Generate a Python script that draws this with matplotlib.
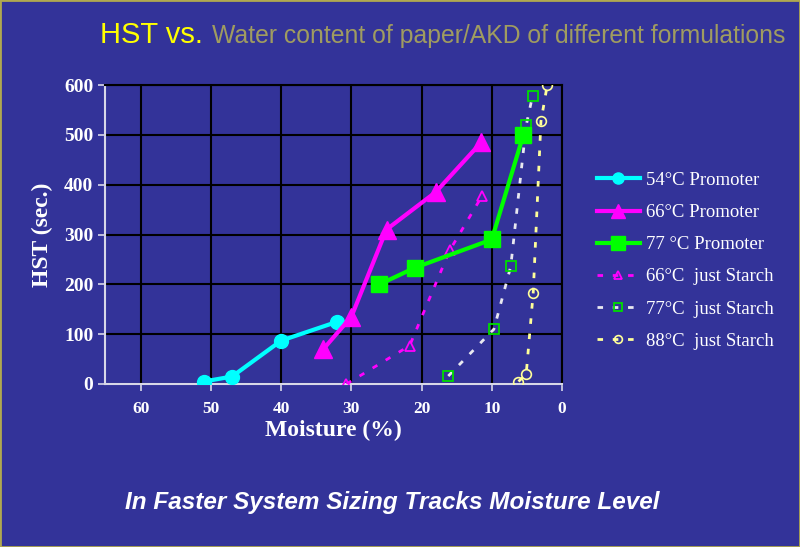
import matplotlib
matplotlib.use('Agg')
import matplotlib.pyplot as plt
from matplotlib.patches import Rectangle

# data  (x = moisture %, y = HST sec.)
x54p = [51, 47, 40, 32];            y54p = [5, 15, 87, 125]
x66p = [34, 30, 25, 18, 11.5];      y66p = [70, 135, 310, 385, 485]
x77p = [26, 21, 10, 5.5];           y77p = [200, 233, 290, 500]
x66s = [30.7, 21.7, 16, 11.4];      y66s = [0, 77, 268, 377]
x77s = [16.2, 9.7, 7.3, 5.1, 4.2];  y77s = [16, 110, 236, 519, 578]
x88s = [6.2, 5.1, 4.1, 3.0, 2.1];   y88s = [5, 20, 183, 527, 600]
labels = ['54°C Promoter', '66°C Promoter', '77 °C Promoter',
          '66°C  just Starch', '77°C  just Starch', '88°C  just Starch']
xticks = [60, 50, 40, 30, 20, 10, 0]
yticks = [0, 100, 200, 300, 400, 500, 600]

BG = '#333399'
serif = ['Liberation Serif', 'DejaVu Serif']
sans = ['Liberation Sans', 'DejaVu Sans']

fig = plt.figure(figsize=(8, 5.47), dpi=100, facecolor=BG)
ax = fig.add_axes([105/800, 1-384/547, (562-105)/800, (384-85)/547], facecolor=BG)

dot = (0, (2, 3.5))
ax.plot(x54p, y54p, color='#00ffff', lw=3, marker='o', ms=10, label=labels[0], zorder=5)
ax.plot(x66p, y66p, color='#ff00ff', lw=3, marker='^', ms=13, label=labels[1], zorder=5)
ax.plot(x77p, y77p, color='#00ff00', lw=3, marker='s', ms=12, label=labels[2], zorder=5)
ax.plot(x66s, y66s, color='#ff00ff', lw=2, ls=dot, marker='^', ms=7, mfc='none',
        mec='#ff00ff', mew=1.3, label=labels[3], zorder=4)
ax.plot(x77s, y77s, color='#e8e8f0', lw=2, ls=dot, marker='s', ms=7, mfc='none',
        mec='#00dd00', mew=1.3, label=labels[4], zorder=4)
ax.plot(x88s, y88s, color='#ffff99', lw=2, ls=dot, marker='o', ms=7, mfc='none',
        mec='#ffff99', mew=1.2, label=labels[5], zorder=4)

ax.set_xlim(65.1, 0)
ax.set_ylim(0, 600)
ax.set_xticks(xticks)
ax.set_yticks(yticks)
ax.grid(True, color='black', lw=1.5)
ax.set_axisbelow(True)
for s in ['top', 'right']:
    ax.spines[s].set_color('black'); ax.spines[s].set_linewidth(1.5)
for s in ['left', 'bottom']:
    ax.spines[s].set_color('#d8d8e8'); ax.spines[s].set_linewidth(1.5)
ax.tick_params(axis='both', colors='#d8d8e8', length=5, width=1.2, direction='out')
for t in ax.get_xticklabels():
    t.set_fontfamily(serif); t.set_fontweight('bold'); t.set_fontsize(12.5); t.set_color('white')
for t in ax.get_yticklabels():
    t.set_fontfamily(serif); t.set_fontweight('bold'); t.set_fontsize(14); t.set_color('white')
ax.tick_params(axis='x', pad=7)
ax.set_xlabel('Moisture (%)', family=serif, weight='bold', fontsize=17, color='white', labelpad=2)
ax.set_ylabel('HST (sec.)', family=serif, weight='bold', fontsize=17, color='white', labelpad=8)

leg = ax.legend(loc='upper left', bbox_to_anchor=(580/800, 1-155/547), bbox_transform=fig.transFigure,
                frameon=False, prop={'family': serif, 'size': 13.5}, labelcolor='white',
                handlelength=2.3, handletextpad=0.3, labelspacing=0.8, markerscale=0.8)

fig.text(100/800, 1-35/547, 'HST vs.', color='#ffff00', fontsize=21, family=sans, va='center')
fig.text(212/800, 1-36/547, 'Water content of paper/AKD of different formulations', color='#a09c60',
         fontsize=17.8, family=sans, va='center')
fig.text(392/800, 1-502/547, 'In Faster System Sizing Tracks Moisture Level', color='white',
         fontsize=17.5, family=sans, weight='bold', style='italic',
         ha='center', va='center')

fig.patches.append(Rectangle((0, 0), 1, 1, transform=fig.transFigure, fill=False,
                             edgecolor='#b0a850', lw=2))
fig.savefig('out.png', dpi=100, facecolor=BG)
